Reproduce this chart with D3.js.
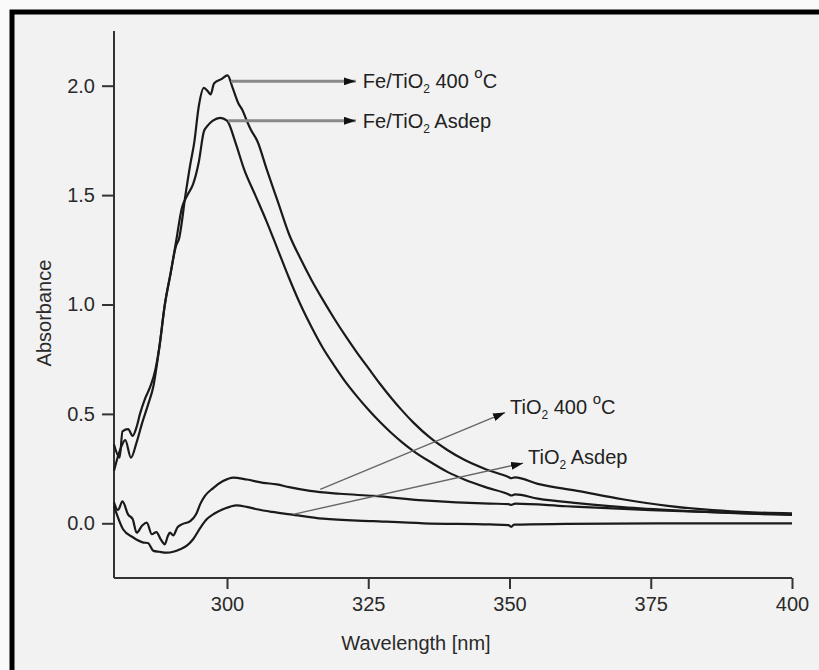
<!DOCTYPE html>
<html>
<head>
<meta charset="utf-8">
<script src="https://cdn.jsdelivr.net/npm/d3@7"></script>
<style>
  html, body { margin: 0; padding: 0; background: #fafafa; }
  svg { display: block; font-family: "Liberation Sans", Arial, sans-serif; }
</style>
</head>
<body>
<svg id="chart" width="819" height="670"></svg>
<script>
// wavelength [nm] / absorbance
const fe400Wl = [280, 281, 281.5, 282.5, 283.3, 284, 284.6, 285.5, 286.5, 287.3, 288, 289, 290, 291, 291.5, 292.7, 293.5, 294.2, 295, 295.9, 296.6, 297.1, 297.7, 299, 300.1, 301, 302, 302.7, 303.5, 304.2, 305.4, 307, 309, 311, 313, 315, 317, 319, 321, 323, 325, 327, 329, 331, 333, 336, 339, 342, 346, 349.8, 350.3, 351, 355, 362, 370, 378, 386, 393, 400];
const fe400Abs = [0.36, 0.30, 0.42, 0.43, 0.40, 0.44, 0.50, 0.57, 0.63, 0.70, 0.80, 1.00, 1.14, 1.27, 1.30, 1.51, 1.64, 1.74, 1.905, 1.99, 1.975, 1.96, 2.01, 2.03, 2.047, 1.99, 1.92, 1.89, 1.84, 1.80, 1.745, 1.62, 1.47, 1.32, 1.21, 1.11, 1.02, 0.935, 0.855, 0.78, 0.71, 0.64, 0.575, 0.515, 0.46, 0.39, 0.335, 0.29, 0.245, 0.212, 0.206, 0.21, 0.18, 0.148, 0.11, 0.08, 0.06, 0.05, 0.045];

const feAsdepWl = [280, 281, 282, 283, 284, 285, 286, 287, 288, 289, 290, 291, 292, 293, 294, 295, 295.9, 296.5, 297.5, 298.8, 300, 301.5, 303, 305, 307, 309, 311, 313, 315, 317, 319, 321, 323, 325, 327, 329, 331, 333, 336, 339, 342, 346, 349.8, 350.3, 351, 355, 362, 370, 380, 390, 400];
const feAsdepAbs = [0.24, 0.33, 0.38, 0.30, 0.37, 0.46, 0.54, 0.63, 0.80, 1.00, 1.14, 1.29, 1.44, 1.50, 1.55, 1.65, 1.79, 1.815, 1.84, 1.853, 1.84, 1.74, 1.62, 1.50, 1.38, 1.25, 1.12, 1.00, 0.895, 0.80, 0.72, 0.645, 0.58, 0.52, 0.465, 0.415, 0.37, 0.33, 0.28, 0.235, 0.20, 0.163, 0.133, 0.127, 0.132, 0.113, 0.092, 0.074, 0.058, 0.046, 0.038];

const ti400Wl = [280, 280.7, 281.5, 282.5, 283.3, 284, 285, 285.8, 286.7, 287.5, 288.3, 289, 289.5, 289.9, 290.5, 291.2, 292, 293.5, 294.5, 295.3, 296.1, 297.5, 299.3, 301.1, 303.5, 306.4, 308.8, 311, 314.7, 320, 325.9, 334.8, 346.5, 349.8, 350.3, 351, 360, 375, 390, 400];
const ti400Abs = [0.096, 0.06, 0.10, 0.04, 0.02, -0.043, -0.01, 0.003, -0.05, -0.04, -0.075, -0.096, -0.06, -0.043, -0.055, -0.02, -0.005, 0.01, 0.04, 0.09, 0.125, 0.16, 0.193, 0.209, 0.20, 0.185, 0.178, 0.165, 0.148, 0.135, 0.125, 0.105, 0.09, 0.088, 0.084, 0.09, 0.078, 0.06, 0.048, 0.041];

const tiAsdepWl = [280, 280.8, 281.6, 283.4, 285.2, 286, 287, 288, 289.3, 290.5, 291.7, 293, 294, 295.3, 296.4, 297.8, 299.3, 301.7, 303.5, 305.3, 308, 311.2, 317, 325.9, 334.8, 346.5, 349.8, 350.3, 350.8, 360, 380, 400];
const tiAsdepAbs = [0.079, 0.02, -0.027, -0.065, -0.088, -0.09, -0.126, -0.13, -0.134, -0.13, -0.119, -0.10, -0.073, -0.02, 0.018, 0.045, 0.064, 0.082, 0.075, 0.064, 0.052, 0.041, 0.021, 0.01, 0.0, -0.005, -0.008, -0.016, -0.006, -0.003, 0.0, 0.0];

const xTicks = [300, 325, 350, 375, 400];
const xMinorTicks = [287.5, 312.5, 337.5, 362.5, 387.5];
const yTicks = [0.0, 0.5, 1.0, 1.5, 2.0];
const yMinorTicks = [-0.25, 0.25, 0.75, 1.25, 1.75, 2.25];

// annotation arrows: [from wl, from abs] -> [to wl, to abs]
const arrowFrom = [[300.7, 2.02], [300.2, 1.84], [316.5, 0.155], [311.7, 0.041]];
const arrowTo = [[322.8, 2.02], [322.8, 1.84], [349.2, 0.506], [352.4, 0.275]];
const labelMain = ["Fe/TiO", "Fe/TiO", "TiO", "TiO"];
const labelRest = [" 400 ", " Asdep", " 400 ", " Asdep"];
const labelDeg = [true, false, true, false];

const svg = d3.select("#chart");

// panel + thick frame (runs off the right and bottom edge)
svg.append("rect").attr("x", 12).attr("y", 12).attr("width", 830).attr("height", 690)
  .attr("fill", "#f2f2f2").attr("stroke", "#000").attr("stroke-width", 5);

const x = d3.scaleLinear().domain([280, 400]).range([114, 792]);
const y = d3.scaleLinear().domain([-0.25, 2.25]).range([578, 31]);

const axisColor = "#333";
const fontSize = 20;

// x axis
const gx = svg.append("g").attr("transform", "translate(0,578)");
gx.call(d3.axisBottom(x).tickValues(xMinorTicks).tickSize(6).tickFormat(""));
gx.call(d3.axisBottom(x).tickValues(xTicks).tickSize(11).tickPadding(8).tickFormat(d3.format("d")));
gx.selectAll(".domain").attr("d", `M${x(280)},0H${x(400)}`);

// y axis
const gy = svg.append("g").attr("transform", "translate(114,0)");
gy.call(d3.axisLeft(y).tickValues(yMinorTicks).tickSize(6).tickFormat(""));
gy.call(d3.axisLeft(y).tickValues(yTicks).tickSize(12).tickPadding(7).tickFormat(d3.format(".1f")));
gy.selectAll(".domain").attr("d", `M0,${y(2.25)}V${y(-0.25)}`);

svg.selectAll(".domain").attr("stroke", axisColor).attr("stroke-width", 2);
svg.selectAll(".tick line").attr("stroke", axisColor).attr("stroke-width", 2);
svg.selectAll(".tick text").attr("fill", "#2a2a2a").attr("font-size", fontSize)
  .attr("font-family", "'Liberation Sans', Arial, sans-serif");

// axis titles
svg.append("text").attr("x", 416).attr("y", 650).attr("text-anchor", "middle")
  .attr("font-size", fontSize).attr("fill", "#2a2a2a").text("Wavelength [nm]");
svg.append("text").attr("transform", "translate(51,313) rotate(-90)").attr("text-anchor", "middle")
  .attr("font-size", fontSize).attr("fill", "#2a2a2a").text("Absorbance");

// spectra
const line = d3.line().x(d => x(d[0])).y(d => y(d[1])).curve(d3.curveMonotoneX);
const series = [
  d3.zip(fe400Wl, fe400Abs),
  d3.zip(feAsdepWl, feAsdepAbs),
  d3.zip(ti400Wl, ti400Abs),
  d3.zip(tiAsdepWl, tiAsdepAbs)
];
svg.selectAll("path.spec").data(series).enter().append("path")
  .attr("class", "spec")
  .attr("d", line)
  .attr("fill", "none")
  .attr("stroke", "#1a1a1a")
  .attr("stroke-width", 2.2)
  .attr("stroke-linejoin", "round");

// arrows
svg.append("defs").append("marker")
  .attr("id", "head").attr("viewBox", "0 0 12 8").attr("refX", 12).attr("refY", 4)
  .attr("markerWidth", 12).attr("markerHeight", 8).attr("markerUnits", "userSpaceOnUse")
  .attr("orient", "auto")
  .append("path").attr("d", "M0,0L12,4L0,8Z").attr("fill", "#111");

arrowFrom.forEach((f, i) => {
  const t = arrowTo[i];
  svg.append("line")
    .attr("x1", x(f[0])).attr("y1", y(f[1]))
    .attr("x2", x(t[0])).attr("y2", y(t[1]))
    .attr("stroke", i < 2 ? "#8a8a8a" : "#666")
    .attr("stroke-width", i < 2 ? 3 : 1.4)
    .attr("marker-end", "url(#head)");

  const tx = x(t[0]) + (i < 2 ? 7 : 5);
  const ty = i < 2 ? y(t[1]) + 7 : y(t[1]) + 1;
  const txt = svg.append("text").attr("x", tx).attr("y", ty)
    .attr("font-size", fontSize).attr("fill", "#222");
  txt.append("tspan").text(labelMain[i]);
  txt.append("tspan").attr("font-size", 12).attr("dy", 5).text("2");
  txt.append("tspan").attr("dy", -5).text(labelRest[i]);
  if (labelDeg[i]) {
    txt.append("tspan").attr("font-size", 15).attr("dy", -10).text("o");
    txt.append("tspan").attr("dy", 10).text("C");
  }
});
</script>
</body>
</html>
